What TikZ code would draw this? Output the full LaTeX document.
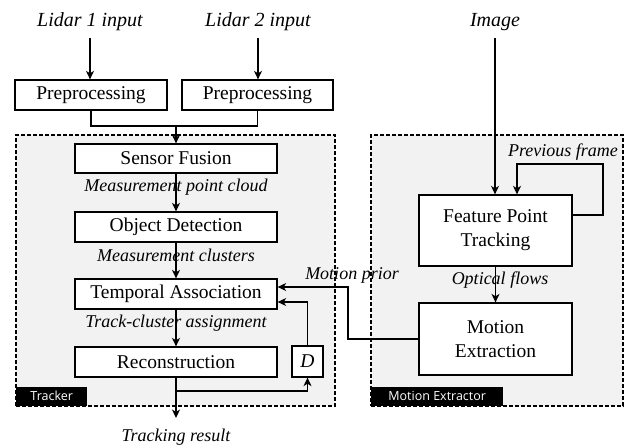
\documentclass[tikz,border=0pt]{standalone}
\usepackage{fontspec}
\setmainfont{Liberation Serif}
\newfontfamily\tagfont{Open Sans}
\usetikzlibrary{arrows.meta}
\definecolor{panelgray}{RGB}{242,242,242}
\begin{document}
\begin{tikzpicture}[x=1pt,y=-1pt,
  box/.style={draw, line width=1.3pt, fill=white, inner sep=0pt, align=center,
    font=\fontsize{19.5}{24}\selectfont},
  lbl/.style={inner sep=0pt, font=\fontsize{18}{20}\selectfont\itshape},
  toplbl/.style={inner sep=0pt, font=\fontsize{20}{22}\selectfont\itshape},
  conn/.style={line width=1.3pt, -{Stealth[length=8.5pt,width=8pt,inset=2.5pt]}},
  plain/.style={line width=1.3pt},
  panel/.style={draw, dash pattern=on 4pt off 2pt, line width=1.1pt, fill=panelgray, inner sep=0pt},
  tag/.style={fill=black, text=white, inner sep=0pt, anchor=south west,
    font=\tagfont\fontsize{12.5}{14}\selectfont}
]
\useasboundingbox (0,0) rectangle (629,447);

% panels
\node[panel, minimum width=319pt, minimum height=271pt] (tracker) at (175.5,270.5) {};
\node[panel, minimum width=252pt, minimum height=271pt] (mepanel) at (497,270.5) {};
\node[tag, minimum width=71pt, minimum height=19pt] (trtag) at (16,406) {Tracker};
\node[tag, minimum width=132pt, minimum height=19pt] (metag) at (371,406) {Motion Extractor};

% inputs
\node[toplbl] (l1) at (90,22) {Lidar 1 input};
\node[toplbl] (l2) at (258,22) {Lidar 2 input};
\node[toplbl] (img) at (495,22) {Image};

% boxes
\node[box, minimum width=152pt, minimum height=30pt] (p1) at (91,95) {Preprocessing};
\node[box, minimum width=151pt, minimum height=30pt] (p2) at (257.5,95) {Preprocessing};
\node[box, minimum width=202pt, minimum height=29pt] (sf) at (176,158.5) {Sensor Fusion};
\node[box, minimum width=202pt, minimum height=30pt] (od) at (176,227) {Object Detection};
\node[box, minimum width=202pt, minimum height=30pt] (ta) at (176,294) {Temporal Association};
\node[box, minimum width=202pt, minimum height=30pt] (rec) at (176,362) {Reconstruction};
\node[box, minimum width=31pt, minimum height=31pt, font=\fontsize{19.5}{24}\selectfont\itshape] (d) at (307.5,361.5) {D};
\node[box, minimum width=153pt, minimum height=71pt] (fpt) at (495.5,230.5) {Feature Point\\Tracking};
\node[box, minimum width=153pt, minimum height=72pt] (me) at (495.5,339) {Motion\\Extraction};

% labels
\node[lbl] (lab1) at (176,187) {Measurement point cloud};
\node[lbl] (lab2) at (176,255) {Measurement clusters};
\node[lbl] (lab3) at (176,323) {Track-cluster assignment};
\node[lbl] (lab4) at (176,437) {Tracking result};
\node[lbl] (lab5) at (352,275) {Motion prior};
\node[lbl] (lab6) at (500,280) {Optical flows};
\node[lbl] (lab7) at (563,152) {Previous frame};

% coordinates
\coordinate (mj) at (176,126);
\coordinate (rb) at (176,391);
\coordinate (out) at (176,418);
\coordinate (mpc) at (348,287);
\coordinate (pfc) at (603,164);

% connectors
\draw[conn, shorten <=7pt] (l1.south) -- (l1.south |- p1.north);
\draw[conn, shorten <=7pt] (l2.south) -- (l2.south |- p2.north);
\draw[conn, shorten <=7pt] (img.south) -- (img.south |- fpt.north);
\draw[plain] (p1.south) |- (mj) -| (p2.south);
\draw[conn] (mj) -- (sf.north);
\draw[conn] (sf) -- (od);
\draw[conn] (od) -- (ta);
\draw[conn] (ta) -- (rec);
\draw[conn] (rec.south) -- (out);
\draw[conn] (rb) -| (d.south);
\draw[conn] (d.north) |- ([yshift=-8pt]ta.east);
\draw[conn] (me.west) -| (mpc) -- ([yshift=7pt]ta.east);
\draw[conn] ([yshift=15.5pt]fpt.east) -| (pfc) -| ([xshift=21.5pt]fpt.north);
\draw[conn] (fpt) -- (me);
\end{tikzpicture}
\end{document}
